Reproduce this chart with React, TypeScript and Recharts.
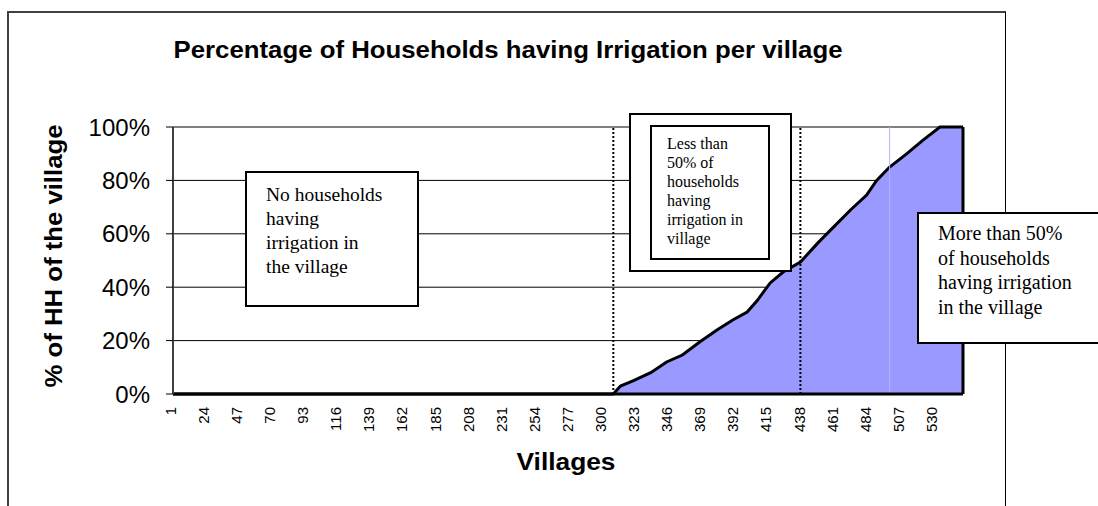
import React from "react";
import {
  AreaChart,
  Area,
  XAxis,
  YAxis,
  CartesianGrid,
  ReferenceLine,
} from "recharts";

// Village rank (sorted by share) and % of households having irrigation
const villageIds = [1, 307, 312, 321, 333, 344, 355, 367, 379, 390, 400, 407, 416, 425, 437, 449, 460, 472, 483, 490, 499, 511, 522, 534, 550];
const irrigationPct = [0, 0, 3, 5, 8, 12, 14.6, 19.5, 24, 27.7, 30.7, 35, 41.6, 45.7, 49.4, 56.5, 62.5, 69, 74.5, 80, 85, 90, 95, 100, 100];

const xTickLabels = [1, 24, 47, 70, 93, 116, 139, 162, 185, 208, 231, 254, 277, 300, 323, 346, 369, 392, 415, 438, 461, 484, 507, 530];
const yTickValues = [0, 20, 40, 60, 80, 100];
const gridValuesDark = [0, 20, 40, 60, 80];
const gridValuesTop = [100];
const dividerVillages = [307, 437];
const lastVillage = 550;
const faintVillage = 499;

const titleText = "Percentage of Households having Irrigation per village";
const yTitle = "% of HH of the village";
const xTitle = "Villages";

const data = villageIds.map((v, i) => ({ village: v, pct: irrigationPct[i] }));

const SANS = "'Liberation Sans', Arial, sans-serif";
const SERIF = "'Liberation Serif', 'Times New Roman', serif";

const XTick = (props: any) => {
  const { x, payload } = props;
  const tx = x - 2.5;
  const ty = 407;
  return (
    <text
      x={tx}
      y={ty}
      transform={`rotate(-90 ${tx} ${ty})`}
      textAnchor="end"
      dy="0.35em"
      fontSize={15}
      fontFamily={SANS}
      fill="#000"
    >
      {payload.value}
    </text>
  );
};

const boxBase: React.CSSProperties = {
  position: "absolute",
  boxSizing: "border-box",
  border: "2px solid #000",
  background: "#fff",
  fontFamily: SERIF,
  color: "#000",
  whiteSpace: "nowrap",
};

export default function App() {
  return (
    <div
      style={{
        position: "fixed",
        left: 0,
        top: 0,
        width: 1098,
        height: 506,
        overflow: "hidden",
        background: "#fff",
      }}
    >
      <div
        style={{
          position: "absolute",
          left: 7,
          top: 11,
          width: 999,
          height: 510,
          boxSizing: "border-box",
          borderTop: "2px solid #404040",
          borderLeft: "2px solid #404040",
          borderRight: "1.5px solid #000",
        }}
      />
      <div style={{ position: "absolute", left: 0, top: 0 }}>
        <AreaChart
          width={1098}
          height={506}
          data={data}
          margin={{ top: 127, right: 135, bottom: 62, left: 93 }}
        >
          <CartesianGrid
            vertical={false}
            horizontalValues={gridValuesDark}
            stroke="#000"
            strokeWidth={1}
          />
          <CartesianGrid
            vertical={false}
            horizontalValues={gridValuesTop}
            stroke="#808080"
            strokeWidth={2}
          />
          <XAxis
            dataKey="village"
            type="number"
            domain={[1, lastVillage]}
            ticks={xTickLabels}
            interval={0}
            tickLine={false}
            axisLine={{ stroke: "#000", strokeWidth: 3 }}
            height={50}
            tick={<XTick />}
            allowDataOverflow
          />
          <YAxis
            type="number"
            domain={[0, 100]}
            ticks={yTickValues}
            width={80}
            tickSize={7}
            tickMargin={16}
            axisLine={{ stroke: "#404040", strokeWidth: 2 }}
            tickLine={{ stroke: "#000" }}
            tick={{ fontSize: 24, fill: "#000", fontFamily: SANS }}
            tickFormatter={(v: number) => `${v}%`}
          />
          <Area
            type="linear"
            dataKey="pct"
            fill="#9999ff"
            fillOpacity={1}
            stroke="#000"
            strokeWidth={3}
            isAnimationActive={false}
          />
          <ReferenceLine x={faintVillage} stroke="#b4b4ff" strokeWidth={1} />
          {dividerVillages.map((v) => (
            <ReferenceLine
              key={v}
              x={v}
              stroke="#000"
              strokeWidth={2}
              strokeDasharray="2 2"
            />
          ))}
          <ReferenceLine x={lastVillage} stroke="#000" strokeWidth={3} />
        </AreaChart>
      </div>
      <svg
        width={1098}
        height={506}
        style={{ position: "absolute", left: 0, top: 0, pointerEvents: "none" }}
      >
        <text
          x={508}
          y={58}
          textAnchor="middle"
          fontFamily={SANS}
          fontWeight="bold"
          fontSize={23.5}
          textLength={669}
          lengthAdjust="spacingAndGlyphs"
          fill="#000"
        >
          {titleText}
        </text>
        <text
          x={62}
          y={256}
          transform="rotate(-90 62 256)"
          textAnchor="middle"
          fontFamily={SANS}
          fontWeight="bold"
          fontSize={24}
          textLength={263}
          lengthAdjust="spacingAndGlyphs"
          fill="#000"
        >
          {yTitle}
        </text>
        <text
          x={566}
          y={470}
          textAnchor="middle"
          fontFamily={SANS}
          fontWeight="bold"
          fontSize={24}
          textLength={99}
          lengthAdjust="spacingAndGlyphs"
          fill="#000"
        >
          {xTitle}
        </text>
      </svg>
      <div
        style={{
          ...boxBase,
          left: 245,
          top: 171,
          width: 174,
          height: 136,
          padding: "10px 0 0 19px",
          fontSize: 19.5,
          lineHeight: "24px",
        }}
      >
        No households
        <br />
        having
        <br />
        irrigation in
        <br />
        the village
      </div>
      <div
        style={{
          ...boxBase,
          left: 629,
          top: 113,
          width: 163,
          height: 159,
        }}
      />
      <div
        style={{
          ...boxBase,
          left: 650,
          top: 125,
          width: 120,
          height: 135,
          padding: "7px 0 0 15px",
          fontSize: 16,
          lineHeight: "19px",
        }}
      >
        Less than
        <br />
        50% of
        <br />
        households
        <br />
        having
        <br />
        irrigation in
        <br />
        village
      </div>
      <div
        style={{
          ...boxBase,
          left: 917,
          top: 212,
          width: 200,
          height: 132,
          padding: "7px 0 0 19px",
          fontSize: 20,
          lineHeight: "24.5px",
        }}
      >
        More than 50%
        <br />
        of households
        <br />
        having irrigation
        <br />
        in the village
      </div>
    </div>
  );
}
